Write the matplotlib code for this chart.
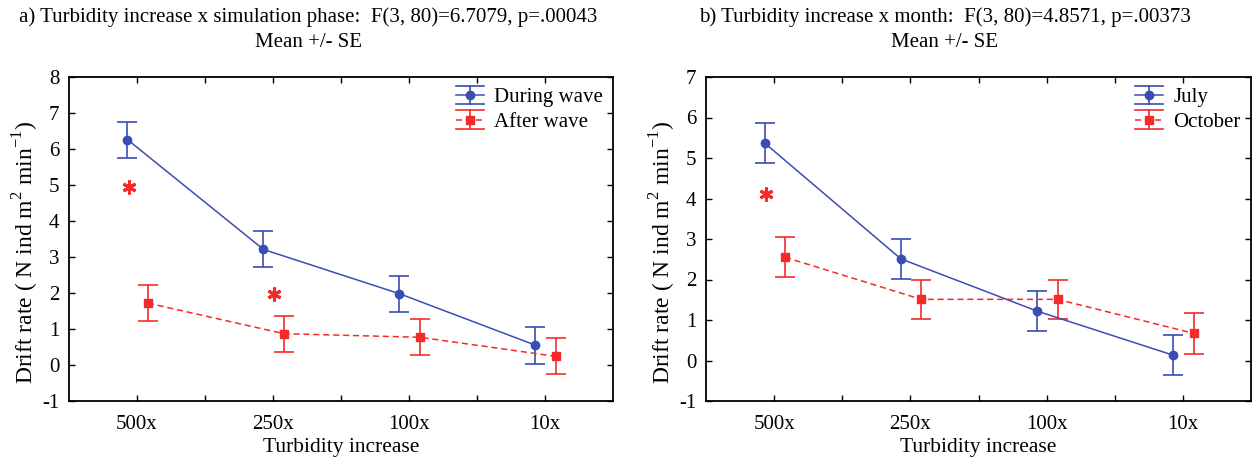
import matplotlib
matplotlib.use("Agg")
import matplotlib.pyplot as plt
from matplotlib.ticker import FixedLocator
from matplotlib.lines import Line2D

plt.rcParams['font.family'] = ['Liberation Serif', 'DejaVu Serif']
plt.rcParams['mathtext.fontset'] = 'custom'
plt.rcParams['mathtext.rm'] = 'Liberation Serif'

categories = ["500x", "250x", "100x", "10x"]

# Panel a
a_title = "a) Turbidity increase x simulation phase:  F(3, 80)=6.7079, p=.00043\nMean +/- SE"
a_labels = ["During wave", "After wave"]
a_during = [6.26, 3.21, 1.98, 0.55]
a_during_se = [0.50, 0.50, 0.50, 0.51]
a_after = [1.72, 0.87, 0.77, 0.24]
a_after_se = [0.49, 0.50, 0.50, 0.50]
a_star_x = [0.94, 2.01]
a_star_y = [4.95, 1.98]

# Panel b
b_title = "b) Turbidity increase x month:  F(3, 80)=4.8571, p=.00373\nMean +/- SE"
b_labels = ["July", "October"]
b_july = [5.37, 2.51, 1.22, 0.13]
b_july_se = [0.49, 0.50, 0.50, 0.49]
b_october = [2.55, 1.51, 1.51, 0.67]
b_october_se = [0.50, 0.49, 0.49, 0.50]
b_star_x = [0.94]
b_star_y = [4.11]

BLUE = "#3a4db3"
RED = "#f52a2a"
FS = 15


class CapHandler:
    """Legend key: line + marker with wide horizontal caps above and below."""
    def __init__(self, color, marker, ls):
        self.color, self.marker, self.ls = color, marker, ls

    def legend_artist(self, legend, orig_handle, fontsize, handlebox):
        x0, y0 = -handlebox.xdescent, -handlebox.ydescent
        w, h = handlebox.width, handlebox.height
        cy = y0 + h / 2
        cx = x0 + w / 2
        cap = 6.5
        tr = handlebox.get_transform()
        arts = [
            Line2D([x0, x0 + w], [cy, cy], color=self.color, lw=1.1,
                   ls=self.ls, dashes=(4, 2.5) if self.ls == '--' else (None, None),
                   transform=tr),
            Line2D([x0, x0 + w], [cy - cap, cy - cap], color=self.color, lw=1.2, transform=tr),
            Line2D([x0, x0 + w], [cy + cap, cy + cap], color=self.color, lw=1.2, transform=tr),
            Line2D([cx, cx], [cy - cap, cy + cap], color=self.color, lw=1.2, transform=tr),
            Line2D([cx], [cy], color=self.color, marker=self.marker, ms=6, ls='none',
                   transform=tr),
        ]
        for a in arts:
            handlebox.add_artist(a)
        return arts[0]


fig = plt.figure(figsize=(12.53, 4.58), dpi=100)
axA = fig.add_axes([69/1253, 1-401/458, (613-69)/1253, (401-77)/458])
axB = fig.add_axes([706/1253, 1-401/458, (1251-706)/1253, (401-77)/458])


def panel(ax, s1, e1, s2, e2, labels, sx, sy, ylim, yticks):
    x = list(range(1, len(categories) + 1))
    xb = [v - 0.07 for v in x]
    xr = [v + 0.08 for v in x]
    h1 = ax.errorbar(xb, s1, yerr=e1, color=BLUE, marker='o', ms=6, lw=1.1,
                     elinewidth=1.2, capsize=7, capthick=1.2, label=labels[0])
    h2 = ax.errorbar(xr, s2, yerr=e2, color=RED, marker='s', ms=6, lw=1.1, ls='--',
                     dashes=(4, 2.5), elinewidth=1.2, capsize=7, capthick=1.2, label=labels[1])
    ax.plot(sx, sy, ls='none', marker=(6, 2, 0), ms=10, mew=2.2, color=RED)
    ax.set_xlim(0.5, 4.5)
    ax.set_ylim(*ylim)
    ax.set_yticks(yticks)
    ax.set_yticklabels([str(t) for t in yticks])
    ax.set_xticks(x)
    ax.set_xticklabels(categories)
    ax.xaxis.set_minor_locator(FixedLocator([1.5, 2.5, 3.5]))
    ax.tick_params(which='both', direction='in', top=True, right=True, length=4,
                   width=1, labelsize=FS)
    ax.tick_params(axis='x', which='both', pad=10)
    ax.tick_params(axis='y', which='both', pad=7)
    for sp in ax.spines.values():
        sp.set_linewidth(1.3)
    ax.set_xlabel("Turbidity increase", fontsize=15.5, labelpad=3)
    ax.set_ylabel(r"Drift rate ( N ind m$^{2}$ min$^{-1}$)", fontsize=17)
    ax.yaxis.set_label_coords(-0.052, 0.46)
    ax.legend([h1, h2], labels, loc='upper right', frameon=False, fontsize=FS,
              handlelength=1.35, handletextpad=0.48, borderaxespad=0.35,
              labelspacing=0.25, borderpad=0.15,
              handler_map={h1: CapHandler(BLUE, 'o', '-'),
                           h2: CapHandler(RED, 's', '--')})
    return ax


panel(axA, a_during, a_during_se, a_after, a_after_se, a_labels, a_star_x, a_star_y,
      (-1, 8), list(range(-1, 9)))
panel(axB, b_july, b_july_se, b_october, b_october_se, b_labels, b_star_x, b_star_y,
      (-1, 7), list(range(-1, 8)))

fig.text(0.246, 0.985, a_title, ha='center', va='top', fontsize=FS, linespacing=1.45)
fig.text(0.754, 0.985, b_title, ha='center', va='top', fontsize=FS, linespacing=1.45)

fig.savefig("out.png", dpi=100)
